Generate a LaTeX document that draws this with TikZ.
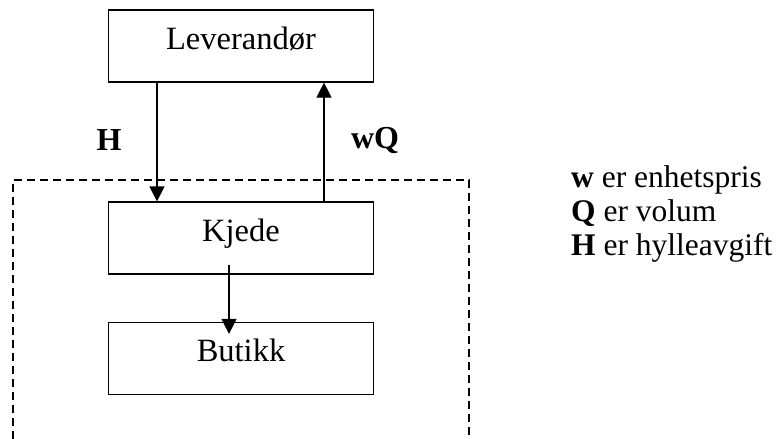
\documentclass[tikz,border=0pt]{standalone}
\usepackage{fontspec}
\setmainfont{Liberation Serif}
\usetikzlibrary{arrows.meta}
\begin{document}
\begin{tikzpicture}[x=1pt,y=-1pt,
  box/.style={draw,line width=1.2pt,minimum width=265pt,minimum height=72pt,
    inner sep=0pt,text height=0.72em,text depth=0.1em,font=\fontsize{32.5}{38}\selectfont},
  flow/.style={line width=1.2pt,-{Triangle[width=15pt,length=15pt]}},
  lbl/.style={font=\fontsize{32}{38}\selectfont\bfseries},
  legend/.style={anchor=base west,inner sep=0pt,font=\fontsize{31.5}{36}\selectfont},
  border/.style={line width=1.2pt,dash pattern=on 8pt off 5pt}]
  \useasboundingbox (0,0) rectangle (777,439);

  % actors
  \node[box] (lev) at (241,46) {Leverandør};
  \node[box] (kj)  at (241,238) {Kjede};
  \node[box] (bu)  at (241,358.5) {Butikk};

  % payment flows between supplier and chain
  \draw[flow] ([xshift=-84pt]lev.south) -- ([xshift=-84pt]kj.north);
  \draw[flow] ([xshift=83pt]kj.north) -- ([xshift=83pt]lev.south);
  \node[lbl] (h) at (109,140) {H};
  \node[lbl] (wq) at (375,140) {wQ};

  % goods from chain to shop
  \draw[flow] ([xshift=-12pt,yshift=10pt]kj.south) -- ([xshift=-12pt,yshift=-12pt]bu.north);

  % dashed boundary around the chain
  \coordinate (bl) at (13,439);
  \coordinate (tl) at (13,180);
  \coordinate (tr) at (469,180);
  \coordinate (br) at (469,439);
  \draw[border] (bl) -- (tl) -- (tr) -- (br);

  % legend
  \node[legend] (lw) at (571,187) {\textbf{w} er enhetspris};
  \node[legend] (lq) at (571,221) {\textbf{Q} er volum};
  \node[legend] (lh) at (571,255) {\textbf{H} er hylleavgift};
\end{tikzpicture}
\end{document}
